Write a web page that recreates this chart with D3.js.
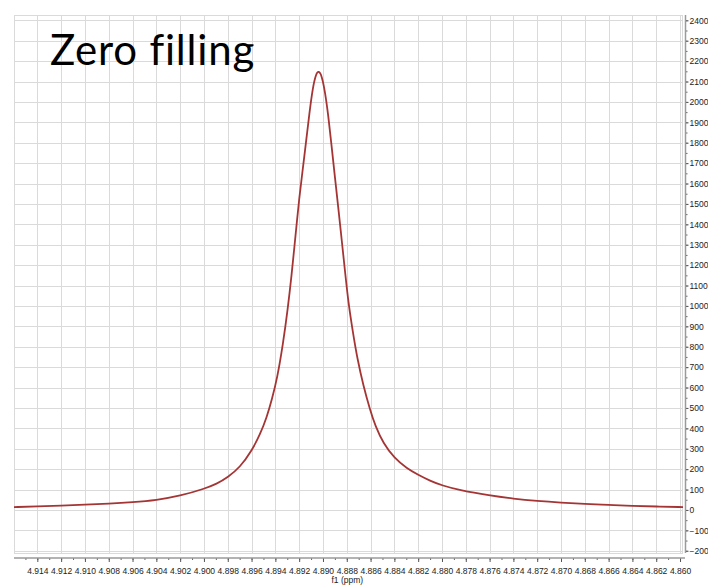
<!DOCTYPE html>
<html>
<head>
<meta charset="utf-8">
<script src="https://cdn.jsdelivr.net/npm/d3@7"></script>
<style>
  html, body { margin: 0; padding: 0; background: #fff; }
  svg { display: block; }
</style>
</head>
<body>
<svg id="chart" width="708" height="586"></svg>
<script>
// ---- data ----
const titleText = "Zero filling";
const xAxisLabel = "f1 (ppm)";
const ppm = [4.91596, 4.914, 4.912, 4.910, 4.908, 4.906, 4.904, 4.902, 4.900, 4.89892, 4.898,
  4.89697, 4.896, 4.89529, 4.89472, 4.89430, 4.89383, 4.89338, 4.89296, 4.89262, 4.89240,
  4.89218, 4.892, 4.89178, 4.89142, 4.89114, 4.89086, 4.89058, 4.89037, 4.89010, 4.88982,
  4.88955, 4.88926, 4.88898, 4.88871, 4.88842, 4.88814, 4.88787, 4.88750, 4.88711, 4.88661,
  4.88604, 4.88562, 4.88492, 4.884, 4.88296, 4.882, 4.881, 4.880, 4.87848, 4.876, 4.874,
  4.872, 4.870, 4.868, 4.866, 4.864, 4.862, 4.85975];
const intensity = [14, 17, 21, 26, 31, 38, 48, 69, 103, 128, 160,
  209, 289, 369, 455, 539, 650, 805, 983, 1160, 1290,
  1420, 1525, 1630, 1805, 1945, 2070, 2138, 2153, 2130, 2047,
  1932, 1775, 1622, 1480, 1320, 1165, 1018, 876, 740, 610,
  490, 415, 325, 254, 204, 172, 143, 120, 96, 71, 55,
  44, 36, 30, 25, 20, 17, 14];
const xTicks = d3.range(0, 28).map(i => +(4.860 + i * 0.002).toFixed(3));
const xMinorTicks = d3.range(0, 57).map(i => +(4.860 + i * 0.001).toFixed(3)).filter(v => v <= 4.9159);
const yTicks = d3.range(-200, 2401, 100);
const yMinorTicks = d3.range(-200, 2401, 50);

// ---- layout ----
const W = 708, H = 586;
const plot = { left: 14, right: 683, top: 15, bottom: 553 };
const xDomain = [4.91596, 4.85975];
const yDomain = [-211, 2426];

const svg = d3.select("#chart");
const x = d3.scaleLinear().domain(xDomain).range([plot.left, plot.right]);
const y = d3.scaleLinear().domain(yDomain).range([plot.bottom, plot.top]);

const gridColor = "#dadada";
const axisColor = "#9a9a9a";
const font = "'Liberation Sans', Arial, sans-serif";

// grid
const grid = svg.append("g");
grid.selectAll("line.v").data(xTicks).join("line")
  .attr("x1", d => Math.round(x(d)) + 0.5).attr("x2", d => Math.round(x(d)) + 0.5)
  .attr("y1", plot.top).attr("y2", plot.bottom)
  .attr("stroke", gridColor).attr("stroke-width", 1);
grid.selectAll("line.h").data(yTicks).join("line")
  .attr("y1", d => Math.round(y(d)) + 0.5).attr("y2", d => Math.round(y(d)) + 0.5)
  .attr("x1", plot.left).attr("x2", plot.right)
  .attr("stroke", gridColor).attr("stroke-width", 1);
grid.append("rect")
  .attr("x", plot.left + 0.5).attr("y", plot.top + 0.5)
  .attr("width", plot.right - plot.left - 1).attr("height", plot.bottom - plot.top)
  .attr("fill", "none").attr("stroke", gridColor);

// title
svg.append("text")
  .attr("x", 50).attr("y", 65)
  .attr("font-family", "Lato, 'Open Sans', sans-serif")
  .attr("font-size", 42)
  .attr("letter-spacing", 0.8)
  .attr("fill", "#000")
  .text(titleText);

// curve
const pts = ppm.map((p, i) => [p, intensity[i]]);
const line = d3.line().x(d => x(d[0])).y(d => y(d[1])).curve(d3.curveBasis);
svg.append("path")
  .datum(pts)
  .attr("d", line)
  .attr("fill", "none")
  .attr("stroke", "#a53535")
  .attr("stroke-width", 1.8)
  .attr("stroke-linejoin", "round");

// bottom axis
const axisY = 558;
const gx = svg.append("g").attr("transform", `translate(0,${axisY})`);
gx.call(d3.axisBottom(x).tickValues(xMinorTicks).tickSize(2).tickFormat(""))
  .call(g => g.select(".domain").remove());
gx.selectAll(".tick line").attr("stroke", "#666");
const gx2 = svg.append("g").attr("transform", `translate(0,${axisY})`);
gx2.call(d3.axisBottom(x).tickValues(xTicks).tickSize(4).tickPadding(6).tickFormat(d3.format(".3f")))
  .call(g => g.select(".domain").remove());
gx2.selectAll(".tick line").attr("stroke", "#555");
gx2.selectAll(".tick text").attr("font-family", font).attr("font-size", 8.5).attr("fill", "#222");
svg.append("line")
  .attr("x1", plot.left).attr("x2", plot.right + 2)
  .attr("y1", axisY).attr("y2", axisY)
  .attr("stroke", axisColor).attr("stroke-width", 1.5);
svg.append("text")
  .attr("x", x(4.888) + 0.5).attr("y", 583)
  .attr("text-anchor", "middle")
  .attr("font-family", font).attr("font-size", 8.5).attr("fill", "#222")
  .text(xAxisLabel);

// right axis
const axisX = 685.5;
const gy = svg.append("g").attr("transform", `translate(${axisX},0)`);
gy.call(d3.axisRight(y).tickValues(yMinorTicks).tickSize(2).tickFormat(""))
  .call(g => g.select(".domain").remove());
gy.selectAll(".tick line").attr("stroke", "#666");
const gy2 = svg.append("g").attr("transform", `translate(${axisX},0)`);
gy2.call(d3.axisRight(y).tickValues(yTicks).tickSize(3).tickPadding(1).tickFormat(d3.format("d")))
  .call(g => g.select(".domain").remove());
gy2.selectAll(".tick line").attr("stroke", "#555");
gy2.selectAll(".tick text").attr("font-family", font).attr("font-size", 8.5).attr("fill", "#222");
svg.append("line")
  .attr("x1", axisX).attr("x2", axisX)
  .attr("y1", plot.top).attr("y2", plot.bottom)
  .attr("stroke", axisColor).attr("stroke-width", 1.5);
</script>
</body>
</html>
